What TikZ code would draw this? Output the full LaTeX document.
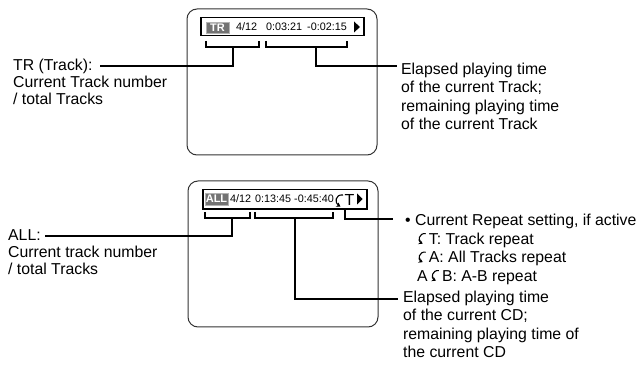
\documentclass[tikz,border=0pt]{standalone}
\usepackage{fontspec}
\setmainfont{Liberation Sans}
\usetikzlibrary{arrows.meta}
\newcommand\rpt{\tikz[baseline=0pt,x=1pt,y=1pt]\draw[line width=1.1pt,-{Stealth[length=4pt,width=5pt]}] (7.5,10.5) .. controls (0.5,11.5) and (-0.5,3) .. (4.5,0.5);}
\begin{document}
\begin{tikzpicture}[x=1pt,y=-1pt,
  lbl/.style={font=\fontsize{15.8}{17}\selectfont, align=left, inner sep=0pt, anchor=north west},
  rlbl/.style={lbl, font=\fontsize{15.8}{18.5}\selectfont},
  screen/.style={draw=black!80, line width=1pt, rounded corners=10pt},
  bar/.style={draw, line width=1.6pt},
  disp/.style={font=\fontsize{10.8}{12}\selectfont, inner sep=0pt, anchor=base west},
  brk/.style={line width=2.4pt},
  tag/.style={fill=black!55, draw=black!30, line width=0.8pt, inner sep=0pt, minimum width=23pt, text=white, font=\fontsize{11}{11}\selectfont\bfseries}
]
\useasboundingbox (0,0) rectangle (638,366);

% ---------- top screen ----------
\draw[screen] (187,9) rectangle (377,155);
\draw[bar] (201,17.5) rectangle (364,35.5);
\node[tag, minimum height=11pt] (tr) at (217.5,27.5) {TR};
\node[disp] (tn) at (236,30.5) {4/12};
\node[disp] (te) at (266,30.5) {0:03:21};
\node[disp] (tm) at (307,30.5) {-0:02:15};
\fill (354,21.5) -- (360,27) -- (354,32.5) -- cycle;

\draw[brk] (206,41) |- (259,47) -- (259,41);
\draw[brk] (266,41) |- (347,47) -- (347,41);
\coordinate (tl) at (233,47);
\coordinate (tr2) at (316,47);

\node[lbl] (trlab) at (13,59) {TR (Track):\\Current Track number\\/ total Tracks};
\coordinate (trend) at (100,66);
\draw[brk] (tl) |- (trend);

\node[rlbl] (elab) at (401,62.5) {Elapsed playing time\\of the current Track;\\remaining playing time\\of the current Track};
\coordinate (eend) at (397,66);
\draw[brk] (tr2) |- (eend);

% ---------- bottom screen ----------
\draw[screen] (188,181) rectangle (378,327);
\draw[bar] (203,189.5) rectangle (367,209);
\node[tag, minimum height=12pt] (all) at (216.5,199) {ALL};
\node[disp] (bn) at (230,202.8) {4/12};
\node[disp] (be) at (255,202.8) {0:13:45};
\node[disp] (bm) at (294,202.8) {-0:45:40};
\draw[line width=1.1pt,-{Stealth[length=4pt,width=5pt]}] (343,195) .. controls (335,194) and (334.5,203) .. (340.5,206.5);
\node[font=\fontsize{16}{16}\selectfont, inner sep=0pt, anchor=base west] (bt) at (344.5,206) {T};
\fill (357,193.5) -- (362.5,199) -- (357,204.5) -- cycle;

\draw[brk] (205,212) |- (250,218) -- (250,212);
\draw[brk] (255,212) |- (333,218) -- (333,212);
\coordinate (bl) at (232,218);
\coordinate (bmid) at (295,218);
\coordinate (brt) at (345,209);

\node[lbl] (alab) at (8,229.5) {ALL:\\Current track number\\/ total Tracks};
\coordinate (aend) at (45,236);
\draw[brk] (bl) |- (aend);

\node[rlbl] (rlab) at (405,214) {\textbullet\ Current Repeat setting, if active\\
\hspace*{12pt}\rpt\,T: Track repeat\\
\hspace*{12pt}\rpt\,A: All Tracks repeat\\
\hspace*{12pt}A\,\rpt\,B: A-B repeat};
\coordinate (rend) at (393,219.5);
\draw[line width=2pt] (brt) |- (rend);

\node[rlbl] (clab) at (403,290.5) {Elapsed playing time\\of the current CD;\\remaining playing time of\\the current CD};
\coordinate (cend) at (398,299);
\draw[brk] (bmid) |- (cend);
\end{tikzpicture}
\end{document}
